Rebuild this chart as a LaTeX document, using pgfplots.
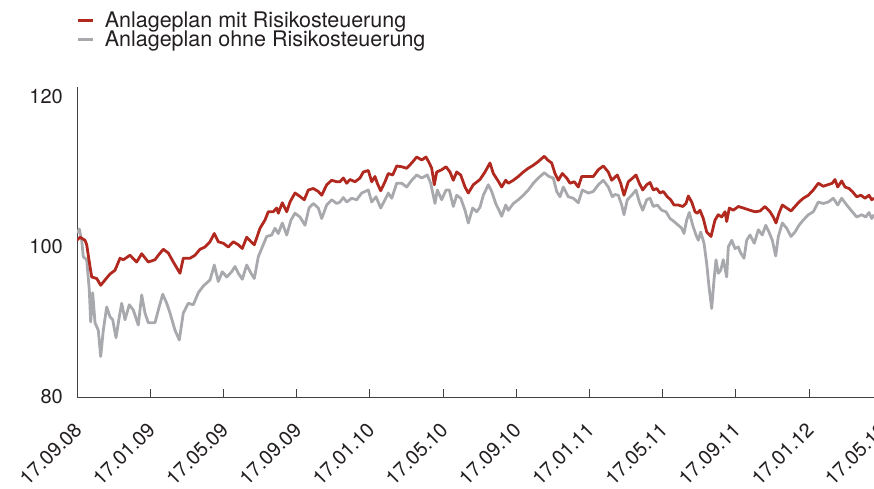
\documentclass[border=0pt]{standalone}
\usepackage{fontspec}
\setmainfont{TeX Gyre Heros}
\usepackage{pgfplots}
\usepackage{pgfplotstable}
\pgfplotsset{compat=1.18}
\definecolor{rred}{RGB}{176,40,30}
\definecolor{rgrey}{RGB}{168,169,173}
\definecolor{txt}{RGB}{35,31,32}
% x = horizontal position (converted to months since 17.09.08 by the x filter)
\pgfplotstableread{
x y
77 100.9
80 101.3
85 100.9
86.7 100.3
90 97.4
91.7 96.0
96.7 95.8
100.7 94.9
105 95.6
110 96.4
115 96.9
120 98.5
123.3 98.3
130 98.9
136.7 98.0
141.7 99.1
148.3 98.0
155 98.3
158.3 98.9
163.3 99.7
168.3 99.2
173.3 98.0
180 96.5
183.3 98.5
190 98.5
195 98.9
200 99.7
205 100.0
210 100.7
214.3 101.8
218.3 100.7
223.3 100.5
228.3 100.0
233.3 100.7
238.3 100.3
242.3 99.8
246.7 101.3
251 100.7
254.3 100.3
260 102.5
265 103.6
268.3 104.7
273.3 104.7
276.7 105.2
278.3 104.5
282.3 105.9
286.7 104.7
290 106.0
295 107.2
298.3 106.9
304.3 106.3
308.3 107.6
313.3 107.8
318.3 107.4
321.7 106.9
326.7 108.3
331.7 108.9
336.7 108.7
340 108.7
343.3 109.2
346.7 108.5
350 109.0
355 108.7
360 109.2
363.3 110.0
368.3 110.2
371.7 108.7
375 109.4
377.3 108.5
380.7 107.5
385 108.7
388.3 109.8
392.7 109.6
396.7 110.8
401.7 110.7
406.7 110.5
411.7 111.2
416.7 112.0
421.7 111.6
426 112.0
429.3 111.2
431.7 110.5
434.3 108.3
436.7 110.0
441.7 110.3
446 110.7
450 110.0
453.3 108.9
456.7 110.0
460.7 109.6
465 108.0
468.3 107.2
473.3 108.3
480 109.0
485 110.0
490 111.2
493.3 109.8
497.7 108.9
501.7 108.0
505.7 108.9
508.3 108.5
513.3 108.9
518.3 109.4
523.3 110.0
528.3 110.5
533.3 110.9
538.3 111.4
544.3 112.1
547.7 111.6
551.7 111.2
555 109.8
558.3 108.9
562.3 109.8
566.7 109.2
570 108.5
574.3 108.7
578.3 108.0
581.7 109.4
586.7 109.4
593.3 109.4
598.3 110.3
603.3 110.8
608.3 110.0
611.7 108.9
617.3 109.6
620.7 108.5
624 106.9
628.3 108.7
632.7 109.2
636 109.6
639.3 108.5
642.7 107.6
646.7 108.3
650 108.6
653.3 107.6
656.7 107.8
660 107.2
663.3 107.4
667.3 106.7
670.7 106.3
674 105.6
678.3 105.6
682.7 105.4
686 105.8
688.3 106.8
691.7 106.0
695 104.7
697.3 104.5
700 104.9
703.3 103.8
706.7 102.0
711 101.4
715 103.6
718.3 104.3
721.7 104.0
725 104.7
726.7 103.4
729.3 105.2
733.3 104.9
738.3 105.4
743.3 105.2
750 104.9
755 104.7
760 104.8
765 105.4
770 104.7
773.3 104.0
776 103.2
779 104.5
782.3 105.6
786.7 105.2
791 104.8
795 105.4
799 106.0
803.3 106.5
808.3 106.9
813.3 107.6
818.3 108.5
823.3 108.1
827.7 108.3
832.3 108.5
835 109.0
837.7 108.0
841.7 108.8
845 108.0
849 107.8
852.3 107.4
856.7 106.7
861 106.9
865 106.5
869 106.9
871.7 106.3
874 106.5
}\mit
\pgfplotstableread{
x y
77 101.9
79.3 102.4
81.7 100.9
83.3 98.7
86.7 98.3
89.3 94.3
90.7 90.0
92.7 93.9
95 89.9
98.3 88.9
100.7 85.4
103.3 88.9
106.7 92.0
110 90.7
112.7 90.3
116 87.9
119.3 90.7
121.7 92.5
125 90.3
129.3 92.3
133.3 91.6
138.3 89.6
141.7 93.6
145 91.2
148.3 89.9
155 89.9
158.3 91.6
162.7 93.7
166.7 92.5
170 91.2
175 88.9
179.3 87.6
183.3 91.2
188.3 92.5
193.3 92.3
198.3 93.9
203.3 94.8
210 95.6
214.3 97.6
218.3 95.4
222.3 96.7
226.7 96.0
231.7 96.7
235 97.4
238.3 96.5
242.3 95.7
246.7 97.6
251 96.5
254.3 95.8
258.3 98.7
262.3 100.0
266.7 101.4
271.7 101.6
275 102.5
278.3 101.8
282.3 103.2
286.7 101.6
291 103.6
295 104.5
300 104.0
305 102.9
309 105.2
313.3 105.8
318.3 105.2
321.7 103.8
326.7 105.6
331.7 106.3
336.7 105.8
340 106.0
343.3 106.6
346.7 106.0
351.7 106.5
356.7 106.3
361.7 107.2
368.3 107.6
371.7 106.0
376 106.7
380.7 105.2
385 106.3
388.3 107.2
391.7 106.5
396.7 108.5
401.7 108.5
406.7 108.0
411.7 108.9
416.7 109.6
421.7 109.2
427.3 109.6
430.7 108.5
435 105.8
437.3 107.6
441.7 106.3
446 107.6
449.3 107.6
453.3 105.4
456.7 106.9
460.7 106.5
465 104.9
468.3 103.2
472.7 105.2
476.7 104.7
480 105.3
483.3 106.9
488.3 108.3
491.7 107.4
495.7 105.8
499 104.9
501.7 104.1
505.7 105.6
508.3 104.9
513.3 105.8
518.3 106.3
523.3 106.9
528.3 107.6
533.3 108.5
538.3 109.2
544.3 109.9
549 109.4
553.3 109.2
556.7 107.4
560 106.7
563.3 108.0
568.3 106.7
573.3 106.5
578.3 105.9
582.3 107.6
588.3 107.2
593.3 107.4
598.3 108.3
603.3 108.9
608.3 108.0
612.3 106.7
615 107.0
618.3 106.9
621.7 105.6
624 104.3
627.3 106.3
631.7 106.9
636 107.6
639.3 106.0
642.7 104.9
646.7 106.3
650 106.5
653.3 105.4
657.3 105.6
661.7 104.9
666 104.7
670 103.8
674 103.4
678.3 102.9
681.7 102.5
684 101.8
686.7 103.6
689.3 104.6
692.7 102.9
696 101.6
698.3 100.9
700.7 102.0
704 100.5
706.7 97.8
709 94.7
711.7 91.8
714 95.6
716 98.3
718.3 96.5
720.7 96.9
723.3 98.3
726.7 96.0
728.3 100.0
731.7 100.9
735 99.8
738.3 100.0
740.7 99.2
744 98.5
746.7 100.9
750 101.6
754.3 100.5
758.3 102.3
762.3 101.6
765.7 102.9
769 102.0
772.3 100.9
775.7 98.8
778.3 101.4
782.3 103.2
786.7 102.5
791 101.4
795 102.0
799 102.9
803.3 103.6
808.3 104.3
813.3 104.7
818.3 106.0
823.3 105.8
828.3 106.0
833.3 106.5
837.7 105.6
841.7 106.5
846.7 105.6
851 104.9
856.7 104.0
861.7 104.3
865.7 104.0
869 104.6
871.7 103.8
874 104.3
}\ohne
\begin{document}
\begin{tikzpicture}
\begin{axis}[
  scale only axis,
  width=805.2pt, height=309.75pt,
  xmin=0, xmax=44, ymin=80, ymax=121.3,
  axis lines*=left,
  axis line style={-, draw=txt!85, line width=1pt},
  xtick={0,4,...,44},
  xticklabels={17.09.08,17.01.09,17.05.09,17.09.09,17.01.10,17.05.10,17.09.10,17.01.11,17.05.11,17.09.11,17.01.12,17.05.12},
  ytick={80,100,120},
  tick align=inside,
  major tick length=8pt,
  xtick style={draw=txt!85, line width=0.8pt},
  ytick style={draw=none},
  /pgf/number format/assume math mode=true,
  tick label style={font=\fontsize{20}{24}\selectfont, text=txt},
  yticklabel style={anchor=east, inner sep=0pt, xshift=-14pt},
  xticklabel style={xshift=-4pt, yshift=-24pt, rotate=45, anchor=north east, inner sep=0pt},
  legend style={draw=none, fill=none, at={(rel axis cs:0,1)}, anchor=north west,
    xshift=-1pt, yshift=76pt, inner sep=0pt, font=\fontsize{21.5}{25}\selectfont, text=txt,
    nodes={inner sep=0.8pt}, row sep=0pt},
  legend cell align=left,
  legend image code/.code={\draw[#1] (0pt,0pt) -- (15pt,0pt); \path (25pt,0pt);},
  x filter/.expression={(x-77)/18.3},
  every axis plot/.append style={line width=2.8pt, line join=round},
]
\addplot[rgrey, forget plot] table[x=x,y=y] {\ohne};
\addplot[rred] table[x=x,y=y] {\mit};
\addlegendentry{Anlageplan mit Risikosteuerung}
\addlegendimage{rgrey, line width=2.8pt}
\addlegendentry{Anlageplan ohne Risikosteuerung}
\end{axis}
\pgfresetboundingbox
\path[use as bounding box] ([shift={(-77pt,-91pt)}]current axis.south west) rectangle ([shift={(797pt,397pt)}]current axis.south west);
\end{tikzpicture}
\end{document}
